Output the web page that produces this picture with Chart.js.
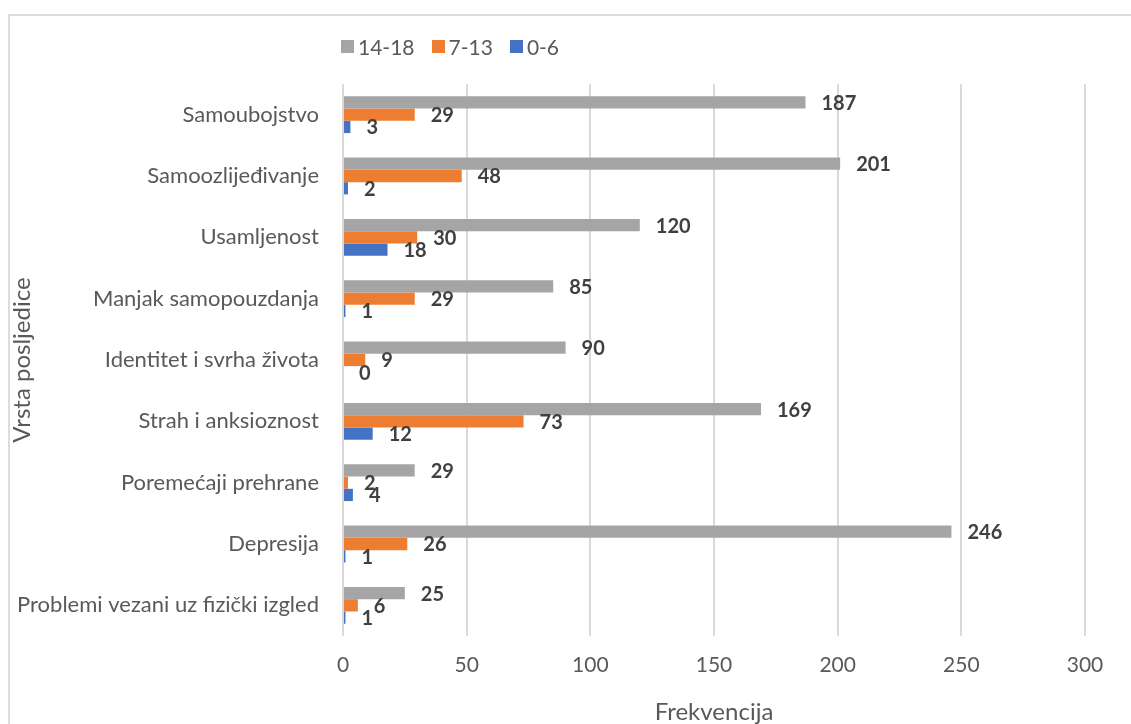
<!DOCTYPE html>
<html>
<head>
<meta charset="utf-8">
<script src="https://cdn.jsdelivr.net/npm/chart.js@4.4.1/dist/chart.umd.min.js"></script>
<style>
  html, body { margin: 0; padding: 0; background: #fff; }
  #wrap { position: relative; width: 1131px; height: 724px; overflow: hidden; }
  #frame { position: absolute; left: 8px; top: 14px; width: 1200px; height: 800px; border: 2px solid #dcdcdc; box-sizing: border-box; }
  #legend { position: absolute; left: 341px; top: 34px; display: flex; font-family: Lato, sans-serif; font-size: 21px; color: #595959; }
  #legend span.item { display: flex; align-items: center; margin-right: 17px; }
  #legend i { display: inline-block; width: 13px; height: 13px; margin-right: 4px; }
</style>
</head>
<body>
<div id="wrap">
  <div id="frame"></div>
  <canvas id="chart" width="1131" height="724"></canvas>
  <div id="legend"></div>
</div>
<script>
const categories = [
  "Samoubojstvo",
  "Samoozlijeđivanje",
  "Usamljenost",
  "Manjak samopouzdanja",
  "Identitet i svrha života",
  "Strah i anksioznost",
  "Poremećaji prehrane",
  "Depresija",
  "Problemi vezani uz fizički izgled"
];
const age14to18 = [187, 201, 120, 85, 90, 169, 29, 246, 25];
const age7to13 = [29, 48, 30, 29, 9, 73, 2, 26, 6];
const age0to6 = [3, 2, 18, 1, 0, 12, 4, 1, 1];
const xTicks = [0, 50, 100, 150, 200, 250, 300];

const FONT = "Lato, sans-serif";

// bold value labels just past the end of each bar
const barLabels = {
  id: "barLabels",
  afterDatasetsDraw(chart) {
    const ctx = chart.ctx;
    ctx.save();
    ctx.font = "bold 20px " + FONT;
    ctx.fillStyle = "#404040";
    ctx.textAlign = "left";
    ctx.textBaseline = "middle";
    chart.data.datasets.forEach((ds, i) => {
      chart.getDatasetMeta(i).data.forEach((bar, j) => {
        ctx.fillText(String(ds.data[j]), bar.x + 16, bar.y + 1);
      });
    });
    ctx.restore();
  }
};

const chart = new Chart(document.getElementById("chart"), {
  type: "bar",
  data: {
    labels: categories,
    datasets: [
      { label: "14-18", data: age14to18, backgroundColor: "#a5a5a5" },
      { label: "7-13", data: age7to13, backgroundColor: "#ed7d31" },
      { label: "0-6", data: age0to6, backgroundColor: "#4472c4" }
    ]
  },
  options: {
    indexAxis: "y",
    responsive: false,
    animation: false,
    categoryPercentage: 0.6,
    barPercentage: 1.0,
    layout: { padding: { top: 84, left: 8, right: 46, bottom: 0 } },
    plugins: {
      legend: { display: false },
      tooltip: { enabled: false }
    },
    scales: {
      x: {
        min: 0,
        max: 300,
        afterBuildTicks: s => { s.ticks = xTicks.map(v => ({ value: v })); },
        afterFit: s => { s.height = 88; },
        grid: { color: "#d9d9d9", lineWidth: 2, drawTicks: false },
        border: { display: false },
        ticks: { color: "#595959", font: { family: FONT, size: 21 }, padding: 17 },
        title: { display: true, text: "Frekvencija", color: "#595959", font: { family: FONT, size: 24 }, padding: { top: 0, bottom: -3 } }
      },
      y: {
        afterFit: s => { s.width = 335; },
        grid: { display: false },
        border: { display: false },
        ticks: { color: "#595959", font: { family: FONT, size: 22 }, padding: 16 },
        title: { display: true, text: "Vrsta posljedice", color: "#595959", font: { family: FONT, size: 24 }, padding: { top: 0, bottom: 0 } }
      }
    }
  },
  plugins: [barLabels]
});

// legend built from the datasets
const legendEl = document.getElementById("legend");
chart.data.datasets.forEach(ds => {
  const item = document.createElement("span");
  item.className = "item";
  const box = document.createElement("i");
  box.style.background = ds.backgroundColor;
  item.appendChild(box);
  item.appendChild(document.createTextNode(ds.label));
  legendEl.appendChild(item);
});
</script>
</body>
</html>
